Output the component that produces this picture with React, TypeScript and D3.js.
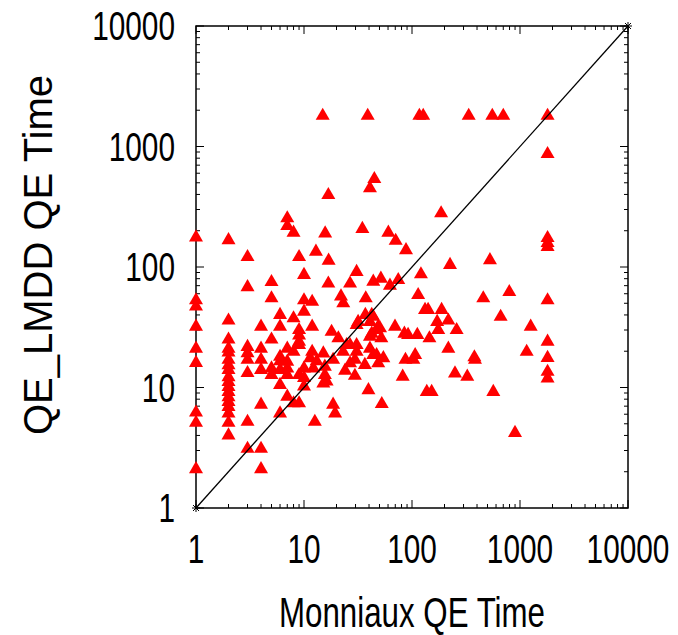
import React, { useRef, useEffect } from 'react';
import * as d3 from 'd3';

// Monniaux QE time (x) vs QE_LMDD QE time (y), one entry per benchmark
const monniauxTime = [
  1, 1, 1, 1, 1, 1, 1, 1, 1,
  2, 2, 2, 2, 2, 2, 2, 2, 2, 2, 2, 2, 2, 2, 2, 2, 2, 2,
  3, 3, 3, 3, 3, 3, 3, 3,
  4, 4, 4, 4, 4, 4, 4,
  5, 5, 5, 5, 5,
  6, 6, 6, 6, 6, 6, 6,
  7, 7, 7, 7, 7, 7, 7,
  8, 8, 8, 8,
  9, 9, 9, 9, 9, 9, 9,
  10, 10, 10, 10, 10, 10,
  11.9, 11.9, 11.9, 11.4, 12.2, 12.9, 13.1, 12.6,
  15.7, 14.9, 15.6, 15.1, 15.6, 15.1, 16.8, 16.9, 16.8, 16.2,
  18, 18.6, 18.6, 19.4, 20.8, 22, 23.1, 23, 24.8, 24, 26.7, 26.7, 26.7,
  30.7, 30.7, 30.7, 30.7, 29.6, 29.6, 31.7, 34.7, 37.3, 38.9, 37, 36.6,
  40.8, 44.8, 43.8, 42.4, 40.8, 40.8, 40.8, 43.8, 42.4, 43.8, 39.5,
  47, 47, 48.7, 48.7, 50.6, 51.5, 52, 54.3, 52.5,
  60.4, 70.6, 62.5, 74.6, 69.6, 85, 92, 88, 82, 87,
  103, 107, 112, 114, 117, 121, 127, 132, 141, 145, 137, 152, 171, 175, 186, 188,
  217, 217, 225, 250, 259, 325, 335, 378, 383, 457, 527, 554, 566, 662, 700, 796, 899,
  1153, 1256,
  1800, 1800, 1800, 1800, 1800, 1800, 1800, 1800, 1800, 1800,
];

const lmddTime = [
  176, 53, 47, 32, 21, 16, 6.2, 5.1, 2.1,
  167, 36, 25, 21, 19.5, 17, 15.3, 14, 12.2, 11.1, 10.1, 9.2, 8.3, 7.6, 6.9, 6.1, 5.1, 4,
  121, 68, 21.7, 19.3, 17, 13.2, 5.2, 3.1,
  32, 21, 17, 14, 7.2, 3.1, 2.1,
  75, 55, 25, 14.4, 12.7,
  40, 32, 18, 16.5, 14, 10.5, 6.1,
  254, 219, 21, 16.4, 14.4, 12.7, 8.4,
  193, 37.5, 19.8, 7.4,
  121, 30, 27, 24, 22.5, 12.7, 7.4,
  86, 53, 42.6, 14.4, 12, 10.2,
  51.5, 32, 19.8, 17.5, 14.4, 134, 16.5, 5.2,
  190, 1800, 14.9, 19.2, 12.7, 10.8, 396, 113, 73, 11.2,
  29, 17, 7.2, 6.1, 25.6, 57, 50, 19.8, 22.5, 13.8, 73, 22.5, 15.9,
  91, 33, 22.5, 19.8, 17, 12.5, 35, 207, 55, 1800, 40, 15.4,
  450, 537, 75.5, 40, 35, 26.4, 21, 38.6, 28, 18.6, 9.5,
  30, 18.6, 32, 15.9, 31, 80, 25.6, 17.5, 7.3,
  193, 165, 70, 78, 32, 28, 27.3, 138, 12.3, 17,
  17, 18.6, 27.3, 58.6, 1800, 87, 1800, 44, 44, 25.6, 9.2, 9.2, 35, 30, 279, 44,
  36, 21, 104, 13.1, 30, 12.3, 1800, 17.8, 17, 55, 114, 1800, 9.2, 38.6, 1800, 62, 4.2,
  19.8, 32,
  1800, 866, 174, 158, 147, 53, 24, 17.6, 13.5, 11.9,
];

const tickValues = [1, 10, 100, 1000, 10000];
const tickLabels = ['1', '10', '100', '1000', '10000'];
const xTitle = 'Monniaux QE Time';
const yTitle = 'QE_LMDD QE Time';

const App = () => {
  const svgRef = useRef<SVGSVGElement>(null);

  useEffect(() => {
    const width = 678;
    const height = 635;
    const left = 196;
    const right = 628;
    const top = 26;
    const bottom = 508;
    const font = '"Liberation Sans", Arial, Helvetica, sans-serif';
    const squeeze = 0.745;

    const svg = d3.select(svgRef.current);
    svg.selectAll('*').remove();
    svg.attr('width', width).attr('height', height);

    svg.append('rect').attr('width', width).attr('height', height).attr('fill', '#fff');

    const x = d3.scaleLog().domain([1, 10000]).range([left, right]);
    const y = d3.scaleLog().domain([1, 10000]).range([bottom, top]);

    // ticks on all four sides, pointing inward
    const allTicks = x.ticks();
    const isMajor = (v: number) => Math.abs(Math.log10(v) - Math.round(Math.log10(v))) < 1e-9;
    const ticks = svg.append('g').attr('stroke', '#000').attr('stroke-width', 1);
    allTicks.forEach((v) => {
      const len = isMajor(v) ? 8 : 4;
      ticks.append('line').attr('x1', x(v)).attr('x2', x(v)).attr('y1', bottom).attr('y2', bottom - len);
      ticks.append('line').attr('x1', x(v)).attr('x2', x(v)).attr('y1', top).attr('y2', top + len);
      ticks.append('line').attr('x1', left).attr('x2', left + len).attr('y1', y(v)).attr('y2', y(v));
      ticks.append('line').attr('x1', right).attr('x2', right - len).attr('y1', y(v)).attr('y2', y(v));
    });

    // frame
    svg
      .append('rect')
      .attr('x', left)
      .attr('y', top)
      .attr('width', right - left)
      .attr('height', bottom - top)
      .attr('fill', 'none')
      .attr('stroke', '#000')
      .attr('stroke-width', 1.5);

    // tick labels
    tickValues.forEach((v, i) => {
      svg
        .append('text')
        .attr('transform', `translate(175,${y(v) + 14}) scale(${squeeze},1)`)
        .attr('text-anchor', 'end')
        .attr('font-family', font)
        .attr('font-size', 40)
        .text(tickLabels[i]);
      svg
        .append('text')
        .attr('transform', `translate(${x(v)},563) scale(${squeeze},1)`)
        .attr('text-anchor', 'middle')
        .attr('font-family', font)
        .attr('font-size', 40)
        .text(tickLabels[i]);
    });

    // axis titles
    svg
      .append('text')
      .attr('transform', `translate(${(left + right) / 2},627) scale(${squeeze},1)`)
      .attr('text-anchor', 'middle')
      .attr('font-family', font)
      .attr('font-size', 42)
      .text(xTitle);
    svg
      .append('text')
      .attr('transform', `translate(52,255) rotate(-90)`)
      .attr('text-anchor', 'middle')
      .attr('font-family', font)
      .attr('font-size', 40)
      .text(yTitle);

    // points
    const tri = d3.symbol().type(d3.symbolTriangle).size(85);
    svg
      .append('g')
      .selectAll('path')
      .data(monniauxTime.map((m, i) => [m, lmddTime[i]]))
      .enter()
      .append('path')
      .attr('transform', (d) => `translate(${x(d[0])},${y(d[1])})`)
      .attr('d', tri() as string)
      .attr('fill', '#ff0000');

    // y = x reference line with star marks at the ends
    svg
      .append('line')
      .attr('x1', x(1))
      .attr('y1', y(1))
      .attr('x2', x(10000))
      .attr('y2', y(10000))
      .attr('stroke', '#000')
      .attr('stroke-width', 1.3);
    [1, 10000].forEach((v) => {
      const cx = x(v);
      const cy = y(v);
      const g = svg.append('g').attr('stroke', '#000').attr('stroke-width', 1);
      g.append('line').attr('x1', cx - 4).attr('x2', cx + 4).attr('y1', cy).attr('y2', cy);
      g.append('line').attr('x1', cx).attr('x2', cx).attr('y1', cy - 4).attr('y2', cy + 4);
      g.append('line').attr('x1', cx - 3).attr('x2', cx + 3).attr('y1', cy - 3).attr('y2', cy + 3);
      g.append('line').attr('x1', cx - 3).attr('x2', cx + 3).attr('y1', cy + 3).attr('y2', cy - 3);
    });
  }, []);

  return <svg ref={svgRef} style={{ position: 'absolute', left: 0, top: 0 }} />;
};

export default App;
